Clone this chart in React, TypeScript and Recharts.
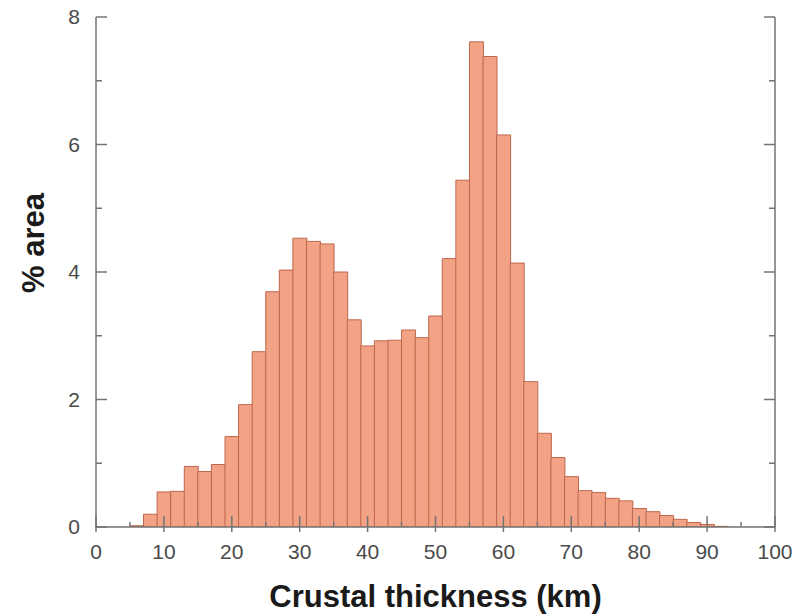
import { Bar, BarChart, XAxis, YAxis } from "recharts";

// 2 km bins, value = bin centre (km)
const binCenters = [
  6, 8, 10, 12, 14, 16, 18, 20, 22, 24, 26, 28, 30, 32, 34, 36, 38, 40, 42, 44, 46, 48,
  50, 52, 54, 56, 58, 60, 62, 64, 66, 68, 70, 72, 74, 76, 78, 80, 82, 84, 86, 88, 90, 92,
];
const pctArea = [
  0.02, 0.2, 0.55, 0.56, 0.95, 0.87, 0.98, 1.42, 1.92, 2.75, 3.69, 4.03, 4.53, 4.48, 4.44,
  4.0, 3.25, 2.84, 2.92, 2.93, 3.09, 2.97, 3.31, 4.21, 5.44, 7.61, 7.38, 6.15, 4.14, 2.28,
  1.47, 1.09, 0.79, 0.57, 0.54, 0.45, 0.41, 0.29, 0.24, 0.18, 0.12, 0.07, 0.04, 0.01,
];
const xTicks = [0, 5, 10, 15, 20, 25, 30, 35, 40, 45, 50, 55, 60, 65, 70, 75, 80, 85, 90, 95, 100];
const yTicks = [0, 1, 2, 3, 4, 5, 6, 7, 8];

const data = binCenters.map((x, i) => ({ x, pct: pctArea[i] }));

const FONT = '"Liberation Sans", Arial, Helvetica, sans-serif';
const AXIS = "#737373";
const TICK_TEXT = "#4a4a4a";
const FILL = "#F2A385";
const EDGE = "#BE664D";

function XTick(props: any) {
  const { x, y, payload } = props;
  const v = payload.value;
  const major = v % 10 === 0;
  return (
    <g>
      <line x1={x} x2={x} y1={major ? y + 5 : y} y2={y - (major ? 11 : 5)} stroke={AXIS} strokeWidth={1.5} />
      {major && (
        <text x={x} y={y + 32} textAnchor="middle" fill={TICK_TEXT} fontSize={21} fontFamily={FONT}>
          {v}
        </text>
      )}
    </g>
  );
}

function YTickLeft(props: any) {
  const { x, y, payload } = props;
  const v = payload.value;
  const major = v % 2 === 0;
  return (
    <g>
      <line x1={x} x2={x + (major ? 11 : 6)} y1={y} y2={y} stroke={AXIS} strokeWidth={1.5} />
      {major && (
        <text x={x - 16} y={y + 7} textAnchor="end" fill={TICK_TEXT} fontSize={21} fontFamily={FONT}>
          {v}
        </text>
      )}
    </g>
  );
}

function YTickRight(props: any) {
  const { x, y, payload } = props;
  const major = payload.value % 2 === 0;
  return <line x1={x} x2={x - (major ? 11 : 6)} y1={y} y2={y} stroke={AXIS} strokeWidth={1.5} />;
}

export default function App() {
  return (
    <div style={{ position: "absolute", left: 0, top: 0, width: 794, height: 615, fontFamily: FONT }}>
      <BarChart
        width={794}
        height={615}
        data={data}
        margin={{ top: 17, right: 0, bottom: 0, left: 0 }}
        barCategoryGap={0}
        barGap={0}
      >
        <XAxis
          dataKey="x"
          type="number"
          domain={[0, 100]}
          ticks={xTicks}
          interval={0}
          allowDataOverflow
          height={88}
          tickSize={0}
          tickMargin={0}
          tick={<XTick />}
          axisLine={{ stroke: AXIS, strokeWidth: 1.5 }}
          label={{
            content: ({ viewBox }: any) => (
              <text
                x={viewBox.x + viewBox.width / 2}
                y={viewBox.y + 80}
                textAnchor="middle"
                fontSize={31}
                fontWeight={700}
                fill="#1a1a1a"
                fontFamily={FONT}
              >
                Crustal thickness (km)
              </text>
            ),
          }}
        />
        <YAxis
          yAxisId="left"
          type="number"
          domain={[0, 8]}
          ticks={yTicks}
          interval={0}
          allowDataOverflow
          width={96}
          tickSize={0}
          tickMargin={0}
          tick={<YTickLeft />}
          axisLine={{ stroke: AXIS, strokeWidth: 1.5 }}
          label={{
            content: ({ viewBox }: any) => {
              const cx = viewBox.x + 33;
              const cy = viewBox.y + viewBox.height / 2 - 29;
              return (
                <text
                  x={cx}
                  y={cy}
                  transform={`rotate(-90 ${cx} ${cy})`}
                  textAnchor="middle"
                  dominantBaseline="central"
                  fontSize={31}
                  fontWeight={700}
                  fill="#1a1a1a"
                  fontFamily={FONT}
                >
                  % area
                </text>
              );
            },
          }}
        />
        <YAxis
          yAxisId="right"
          orientation="right"
          type="number"
          domain={[0, 8]}
          ticks={yTicks}
          interval={0}
          allowDataOverflow
          width={19}
          tickSize={0}
          tickMargin={0}
          tick={<YTickRight />}
          axisLine={{ stroke: AXIS, strokeWidth: 1.5 }}
        />
        <Bar
          yAxisId="left"
          dataKey="pct"
          fill={FILL}
          stroke={EDGE}
          strokeWidth={1}
          isAnimationActive={false}
        />
      </BarChart>
    </div>
  );
}
